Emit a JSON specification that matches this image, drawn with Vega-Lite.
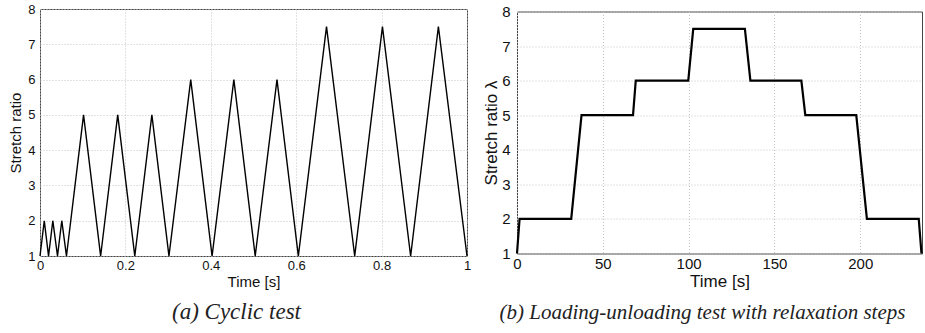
{
  "$schema": "https://vega.github.io/schema/vega-lite/v6.json",
  "background": "white",
  "padding": {"left": 8, "top": 2, "right": 0, "bottom": 0},
  "bounds": "flush",
  "spacing": 50,
  "center": true,
  "config": {
    "view": {"stroke": "#444", "strokeWidth": 1},
    "axis": {
      "gridColor": "#c4c4c4", "gridDash": [1, 2], "gridWidth": 1,
      "domain": false, "ticks": false,
      "labelFont": "Liberation Sans", "titleFont": "Liberation Sans",
      "labelColor": "#111", "titleColor": "#111", "titleFontWeight": "normal",
      "labelFlush": false
    }
  },
  "datasets": {
    "cyclic": [
      {"t": 0, "v": 1}, {"t": 0.010, "v": 2}, {"t": 0.020, "v": 1}, {"t": 0.030, "v": 2},
      {"t": 0.041, "v": 1}, {"t": 0.051, "v": 2}, {"t": 0.062, "v": 1}, {"t": 0.102, "v": 5},
      {"t": 0.142, "v": 1}, {"t": 0.182, "v": 5}, {"t": 0.222, "v": 1}, {"t": 0.262, "v": 5},
      {"t": 0.302, "v": 1}, {"t": 0.353, "v": 6}, {"t": 0.403, "v": 1}, {"t": 0.454, "v": 6},
      {"t": 0.504, "v": 1}, {"t": 0.555, "v": 6}, {"t": 0.605, "v": 1}, {"t": 0.671, "v": 7.5},
      {"t": 0.737, "v": 1}, {"t": 0.802, "v": 7.5}, {"t": 0.868, "v": 1}, {"t": 0.933, "v": 7.5},
      {"t": 1.0, "v": 1}
    ],
    "steps": [
      {"t": 0, "v": 1}, {"t": 1.5, "v": 2}, {"t": 31.6, "v": 2}, {"t": 37.6, "v": 5},
      {"t": 67.6, "v": 5}, {"t": 69.2, "v": 6}, {"t": 99.8, "v": 6}, {"t": 102.7, "v": 7.5},
      {"t": 132.8, "v": 7.5}, {"t": 136.0, "v": 6}, {"t": 165.7, "v": 6}, {"t": 168.0, "v": 5},
      {"t": 197.7, "v": 5}, {"t": 203.9, "v": 2}, {"t": 234.1, "v": 2}, {"t": 235.7, "v": 1}
    ]
  },
  "hconcat": [
    {
      "width": 427, "height": 247,
      "data": {"name": "cyclic"},
      "title": {"text": "(a) Cyclic test", "orient": "bottom", "font": "Liberation Serif", "fontStyle": "italic", "fontWeight": "normal", "fontSize": 23, "color": "#222", "dx": -17, "offset": 12},
      "mark": {"type": "line", "color": "black", "strokeWidth": 1.4},
      "encoding": {
        "x": {"field": "t", "type": "quantitative", "scale": {"domain": [0, 1], "nice": false},
          "axis": {"values": [0, 0.2, 0.4, 0.6, 0.8, 1], "format": "~g", "title": "Time [s]", "labelFontSize": 13, "titleFontSize": 15, "labelPadding": 3, "titlePadding": 2}},
        "y": {"field": "v", "type": "quantitative", "scale": {"domain": [1, 8], "nice": false},
          "axis": {"values": [1, 2, 3, 4, 5, 6, 7, 8], "title": "Stretch ratio", "labelFontSize": 13, "titleFontSize": 15, "labelPadding": 5, "titlePadding": 4}}
      }
    },
    {
      "width": 405, "height": 242,
      "data": {"name": "steps"},
      "title": {"text": "(b) Loading-unloading test with relaxation steps", "orient": "bottom", "font": "Liberation Serif", "fontStyle": "italic", "fontWeight": "normal", "fontSize": 21, "color": "#222", "dx": -17, "offset": 12},
      "mark": {"type": "line", "color": "black", "strokeWidth": 2.2},
      "encoding": {
        "x": {"field": "t", "type": "quantitative", "scale": {"domain": [0, 236], "nice": false},
          "axis": {"values": [0, 50, 100, 150, 200], "title": "Time [s]", "labelFontSize": 15, "titleFontSize": 17, "labelPadding": 3, "titlePadding": 2}},
        "y": {"field": "v", "type": "quantitative", "scale": {"domain": [1, 8], "nice": false},
          "axis": {"values": [1, 2, 3, 4, 5, 6, 7, 8], "title": "Stretch ratio λ", "labelFontSize": 15, "titleFontSize": 17, "labelPadding": 7, "titlePadding": 1}}
      }
    }
  ]
}
